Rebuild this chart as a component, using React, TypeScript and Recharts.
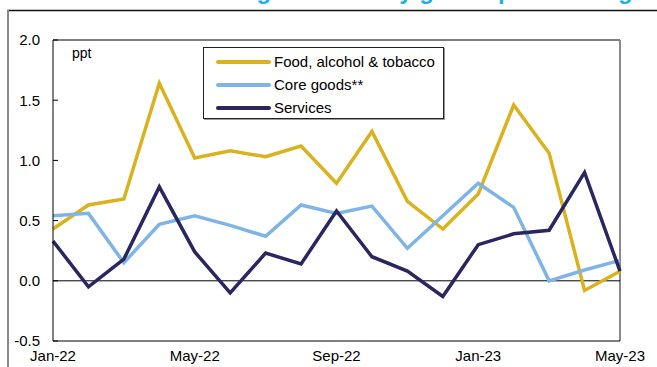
import {
  LineChart, Line, XAxis, YAxis, Legend, ReferenceLine
} from "recharts";

const months = [
  "Jan-22", "Feb-22", "Mar-22", "Apr-22", "May-22", "Jun-22", "Jul-22", "Aug-22", "Sep-22",
  "Oct-22", "Nov-22", "Dec-22", "Jan-23", "Feb-23", "Mar-23", "Apr-23", "May-23",
];
const seriesNames = ["Food, alcohol & tobacco", "Core goods**", "Services"];
const food = [0.43, 0.63, 0.68, 1.64, 1.02, 1.08, 1.03, 1.12, 0.81, 1.24, 0.66, 0.43, 0.72, 1.46, 1.06, -0.08, 0.08];
const coreGoods = [0.54, 0.56, 0.15, 0.47, 0.54, 0.46, 0.37, 0.63, 0.56, 0.62, 0.27, 0.54, 0.81, 0.61, 0.0, 0.09, 0.17];
const services = [0.33, -0.05, 0.18, 0.78, 0.24, -0.10, 0.23, 0.14, 0.58, 0.20, 0.08, -0.13, 0.30, 0.39, 0.42, 0.90, 0.08];
const yTicks = [-0.5, 0, 0.5, 1.0, 1.5, 2.0];

const data = months.map((month, i) => ({
  month,
  food: food[i],
  core: coreGoods[i],
  services: services[i],
}));

const FONT = "'Liberation Sans', Arial, sans-serif";

function LegendBox(props: any) {
  const items = [...(props.payload || [])].sort(
    (a: any, b: any) => seriesNames.indexOf(a.value) - seriesNames.indexOf(b.value)
  );
  return (
    <div style={{
      border: "1px solid #222",
      boxShadow: "1px 1px 0 #999",
      background: "white",
      width: 241,
      height: 72,
      padding: "2px 0 0 0",
      boxSizing: "border-box",
      fontFamily: FONT,
      fontSize: 15,
      color: "#000",
    }}>
      {items.map((p: any) => (
        <div key={p.value} style={{ display: "flex", alignItems: "center", height: 23 }}>
          <span style={{
            display: "inline-block", width: 55, height: 4, borderRadius: 2,
            background: p.color, marginLeft: 12, marginRight: 3,
          }} />
          <span>{p.value}</span>
        </div>
      ))}
    </div>
  );
}

export default function App() {
  return (
    <div style={{ position: "fixed", left: 0, top: 0, width: 657, height: 367, background: "white", overflow: "hidden" }}>
      {/* title, cropped at the top edge */}
      <div style={{
        position: "absolute", right: 11, top: -23, whiteSpace: "nowrap",
        fontFamily: FONT, fontWeight: 700, fontSize: 24, color: "#1fb1e6", lineHeight: "28px",
      }}>
        Contributions to the change in monthly goods price change
      </div>
      <div style={{ position: "absolute", left: 72, top: 45, fontFamily: FONT, fontSize: 14, color: "#000" }}>
        ppt
      </div>
      <div style={{ position: "absolute", left: 0, top: 0 }}>
        <LineChart
          width={657}
          height={367}
          data={data}
          margin={{ top: 40, right: 37, bottom: 0, left: 0 }}
          style={{ fontFamily: FONT }}
        >
          <XAxis
            dataKey="month"
            interval={3}
            tickSize={0}
            tickMargin={9}
            height={26}
            tick={{ fontSize: 15, fill: "#000" }}
            axisLine={{ stroke: "#000", strokeWidth: 1 }}
            tickLine={false}
          />
          <YAxis
            domain={[-0.5, 2]}
            ticks={yTicks}
            width={53}
            interval={0}
            tickFormatter={(v: number) => v.toFixed(1)}
            tick={{ fontSize: 15, fill: "#000" }}
            tickSize={-5}
            tickMargin={18}
            axisLine={{ stroke: "#000", strokeWidth: 1 }}
            tickLine={{ stroke: "#000" }}
          />
          <ReferenceLine y={2} stroke="#555" strokeWidth={1.5} />
          <ReferenceLine x="May-23" stroke="#8a8a8a" strokeWidth={2} />
          <ReferenceLine y={0} stroke="#000" strokeWidth={1} />
          <Legend
            content={<LegendBox />}
            layout="vertical"
            align="center"
            verticalAlign="middle"
            wrapperStyle={{ position: "absolute", left: 203, top: 47, width: 243 }}
          />
          <Line type="linear" dataKey="food" name={seriesNames[0]} stroke="#d9b21e" strokeWidth={3.5} dot={false} isAnimationActive={false} />
          <Line type="linear" dataKey="core" name={seriesNames[1]} stroke="#7fb5e6" strokeWidth={3.5} dot={false} isAnimationActive={false} />
          <Line type="linear" dataKey="services" name={seriesNames[2]} stroke="#2a2660" strokeWidth={3.5} dot={false} isAnimationActive={false} />
        </LineChart>
      </div>
      {/* outer frame */}
      <svg width={657} height={367} style={{ position: "absolute", left: 0, top: 0, pointerEvents: "none" }}>
        <line x1={7} y1={10.5} x2={657} y2={10.5} stroke="#111" strokeWidth={1.5} />
        <line x1={8} y1={10} x2={8} y2={367} stroke="#8a8a8a" strokeWidth={2} />
      </svg>
    </div>
  );
}
